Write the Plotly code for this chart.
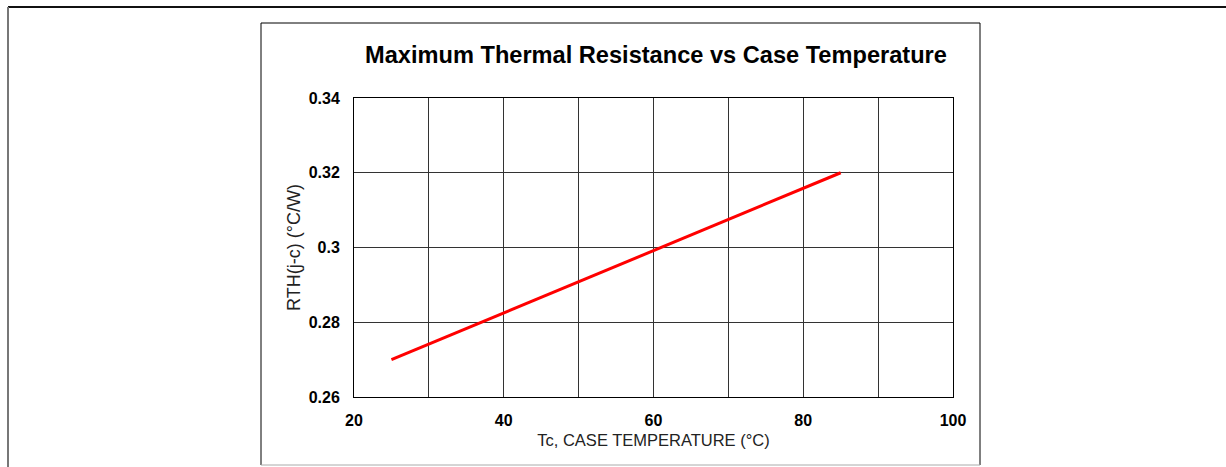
import plotly.graph_objects as go

# Data
case_temp = [25, 85]
rth = [0.27, 0.32]
x_tick_vals = [20, 40, 60, 80, 100]
y_tick_vals = [0.26, 0.28, 0.30, 0.32, 0.34]
y_tick_text = ["0.26", "0.28", "0.3", "0.32", "0.34"]

W, H = 1226, 467
L, R, T, B = 354, 953, 98, 397

def px(x):
    return (x - L) / (R - L)

def py(y):
    return (B - y) / (B - T)

FONT = "Liberation Sans, Arial, sans-serif"

fig = go.Figure()
fig.add_trace(go.Scatter(x=case_temp, y=rth, mode="lines",
                         line=dict(color="#ff0000", width=3), showlegend=False,
                         hoverinfo="x+y"))

shapes = [
    # outer frame
    dict(type="line", xref="paper", yref="paper", x0=px(8), x1=px(1226), y0=py(7), y1=py(7),
         line=dict(color="#111111", width=2)),
    dict(type="line", xref="paper", yref="paper", x0=px(8), x1=px(8), y0=py(7), y1=py(467),
         line=dict(color="#777777", width=2)),
    # inner box
    dict(type="line", xref="paper", yref="paper", x0=px(261), x1=px(980), y0=py(23), y1=py(23),
         line=dict(color="#000000", width=1)),
    dict(type="line", xref="paper", yref="paper", x0=px(261), x1=px(261), y0=py(23), y1=py(465),
         line=dict(color="#000000", width=1)),
    dict(type="line", xref="paper", yref="paper", x0=px(980), x1=px(980), y0=py(23), y1=py(465),
         line=dict(color="#000000", width=1)),
    dict(type="line", xref="paper", yref="paper", x0=px(261), x1=px(980), y0=py(465), y1=py(465),
         line=dict(color="#aaaaaa", width=1)),
]

fig.update_layout(
    width=W, height=H,
    margin=dict(l=L, r=W - R, t=T, b=H - B, pad=0),
    paper_bgcolor="white", plot_bgcolor="white",
    font=dict(family=FONT, color="#000000"),
    title=dict(text="<b>Maximum Thermal Resistance vs Case Temperature</b>",
               xref="container", x=656 / W, xanchor="center",
               yref="container", y=1 - 55 / H, yanchor="middle",
               font=dict(size=23.6, family=FONT, color="#000000")),
    shapes=shapes,
    xaxis=dict(range=[20, 100], tickvals=x_tick_vals,
               tickfont=dict(size=16, family=FONT, color="#000000", weight="bold"),
               showgrid=True, gridcolor="#333333", gridwidth=1,
               minor=dict(dtick=10, showgrid=True, gridcolor="#333333", gridwidth=1),
               showline=True, linecolor="#000000", linewidth=1, mirror=True,
               zeroline=False, ticks="", ticklabelstandoff=9,
               title=dict(text="Tc, CASE TEMPERATURE (°C)", standoff=6,
                          font=dict(size=16.5, family=FONT, color="#222222"))),
    yaxis=dict(range=[0.26, 0.34], tickvals=y_tick_vals, ticktext=y_tick_text,
               tickfont=dict(size=16, family=FONT, color="#000000", weight="bold"),
               showgrid=True, gridcolor="#333333", gridwidth=1,
               showline=True, linecolor="#000000", linewidth=1, mirror=True,
               zeroline=False, ticks="", ticklabelstandoff=10,
               title=dict(text="RTH(j-c) (°C/W)", standoff=3,
                          font=dict(size=18, family=FONT, color="#222222"))),
)

fig.write_html("out.html", config={"displayModeBar": False},
               post_script="document.body.style.margin='0';")
